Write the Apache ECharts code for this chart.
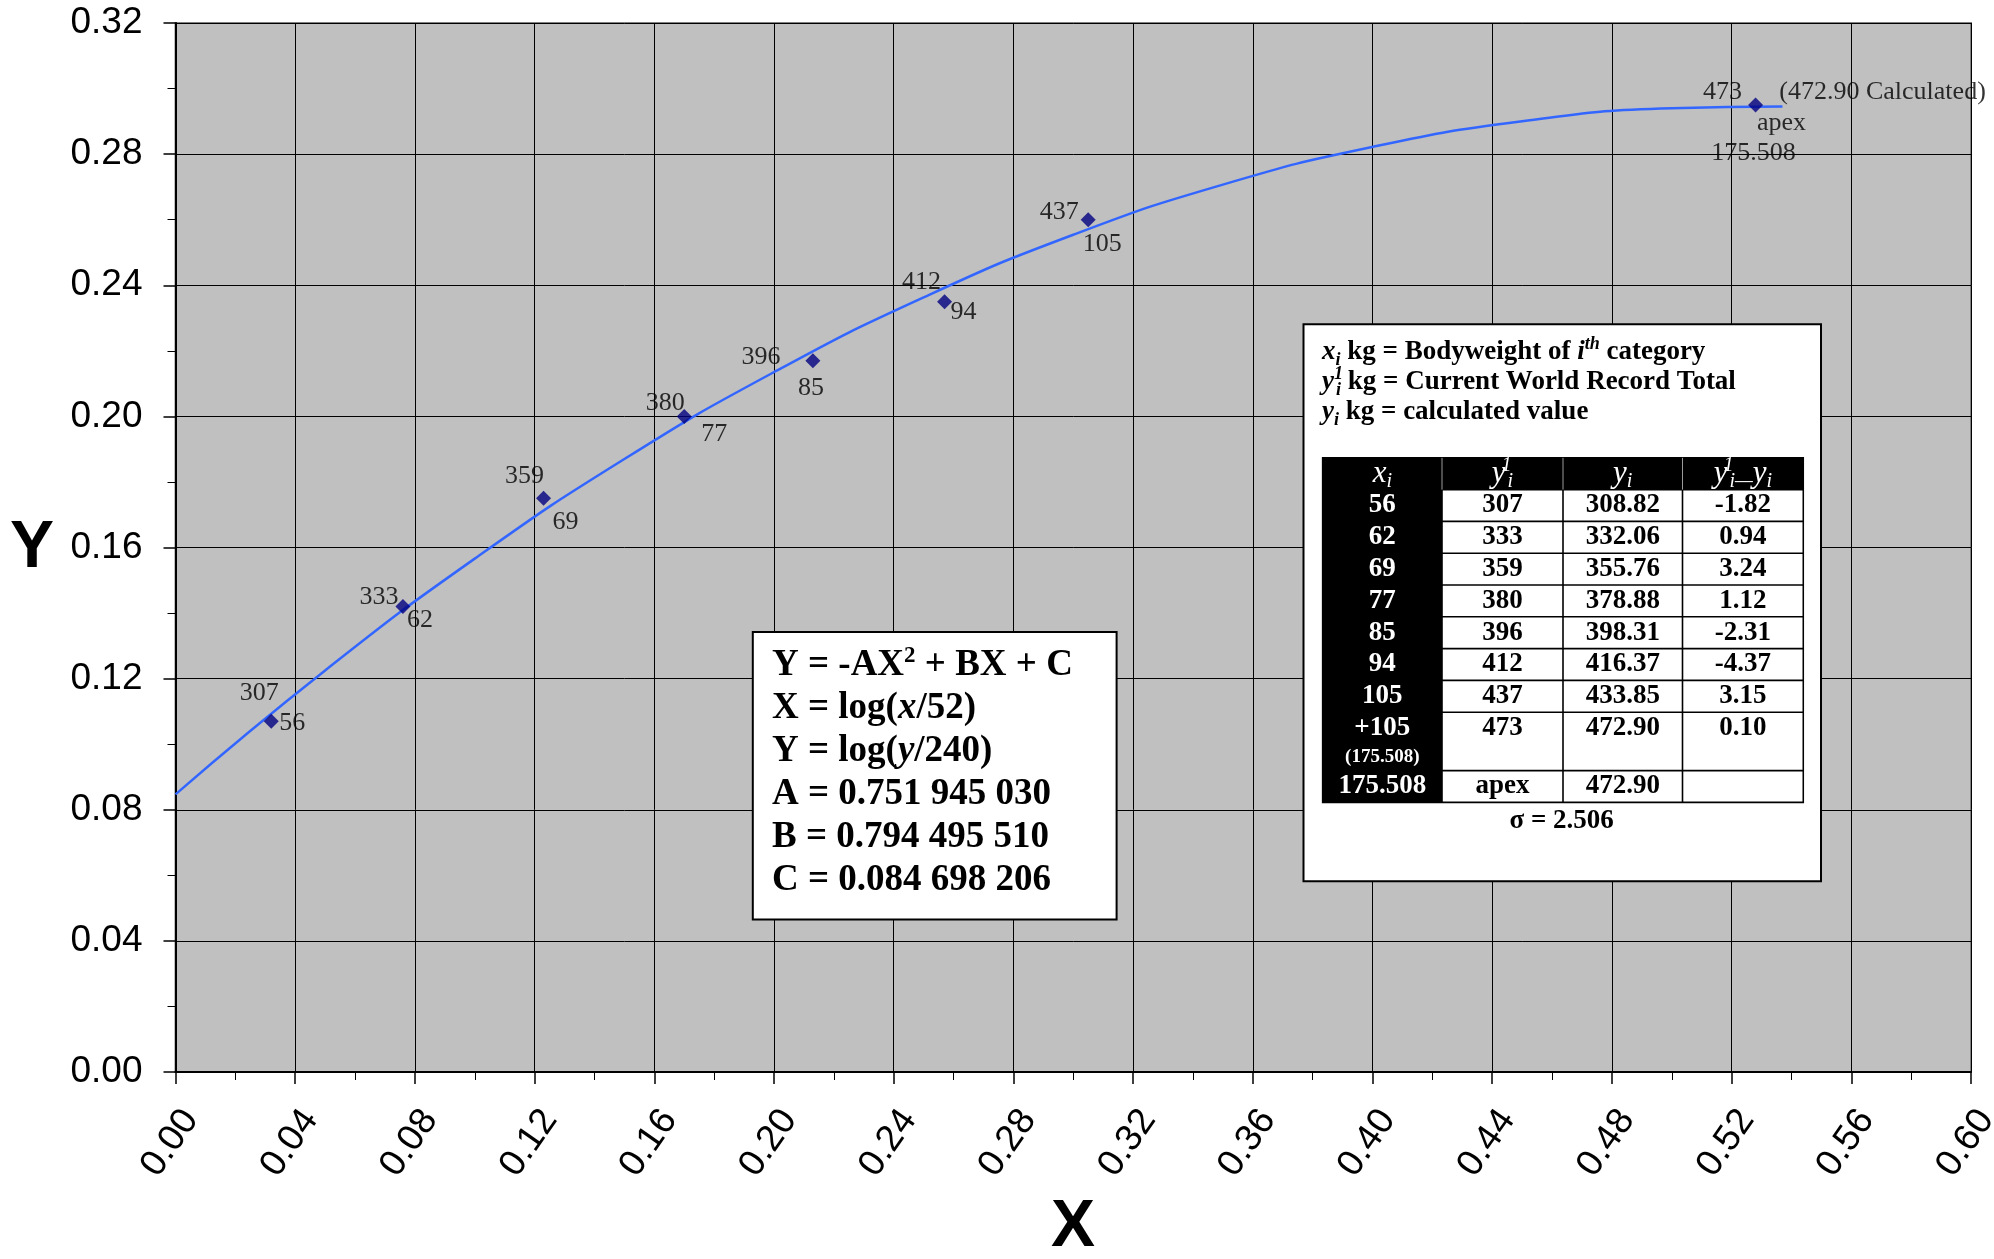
<!DOCTYPE html>
<html>
<head>
<meta charset="utf-8">
<script src="https://cdn.jsdelivr.net/npm/echarts@6/dist/echarts.min.js"></script>
<style>
html,body{margin:0;padding:0;background:#fff;}
#chart{width:1994px;height:1259px;}
</style>
</head>
<body>
<div id="chart"></div>
<script>
// ---------- data ----------
const bodyweights = ['56', '62', '69', '77', '85', '94', '105', '473'];
const bwLabels = ['56', '62', '69', '77', '85', '94', '105', 'apex'];
const recordTotals = ['307', '333', '359', '380', '396', '412', '437', '473'];
const pointX = [0.032, 0.076, 0.123, 0.170, 0.213, 0.257, 0.305, 0.528];
const pointY = [0.107, 0.142, 0.175, 0.200, 0.217, 0.235, 0.260, 0.295];
const apexExtraLabels = ['(472.90 Calculated)', '175.508'];

const curveX = [0, 0.05, 0.10, 0.15, 0.20, 0.25, 0.30, 0.35, 0.40, 0.45, 0.50, 0.537];
const curveY = [0.0847, 0.1225, 0.1566, 0.1870, 0.2135, 0.2363, 0.2554, 0.2707, 0.2822, 0.2900, 0.2940, 0.2945];

const formulaHead = ['Y = -AX', '2', ' + BX + C'];
const coefA = '0.751 945 030';
const coefB = '0.794 495 510';
const coefC = '0.084 698 206';

const tblX = ['56', '62', '69', '77', '85', '94', '105', '+105', '175.508'];
const tblXSub = ['', '', '', '', '', '', '', '(175.508)', ''];
const tblRec = ['307', '333', '359', '380', '396', '412', '437', '473', 'apex'];
const tblCalc = ['308.82', '332.06', '355.76', '378.88', '398.31', '416.37', '433.85', '472.90', '472.90'];
const tblDiff = ['-1.82', '0.94', '3.24', '1.12', '-2.31', '-4.37', '3.15', '0.10', ''];
const sigmaText = 'σ = 2.506';

// ---------- styles / label placement ----------
const recOffsets = [[-12, -28], [-24, -9], [-19, -22], [-19, -13], [-52, -3], [-23, -19], [-29, -8], [-33, -13]];
const bwOffsets = [[21, 2], [17, 14], [22, 24], [30, 18], [-2, 28], [19, 11], [14, 24], [26, 18]];
const extraOffsets = [[127, -13], [-2, 48]];

const SERIF = 'Liberation Serif';
const SANS = 'Liberation Sans';

const chart = echarts.init(document.getElementById('chart'), null, {renderer: 'canvas'});

const labelBase = {show: true, position: 'inside', color: '#000', fontFamily: SERIF, fontSize: 26,
  textBorderWidth: 0, textBorderColor: 'transparent', textShadowBlur: 0};

const recData = pointX.map((x, i) => ({value: [x, pointY[i]], label: {offset: recOffsets[i]}}));
const bwData = pointX.map((x, i) => ({value: [x, pointY[i]], label: {offset: bwOffsets[i]}}));
const ai = pointX.length - 1;
const extraData = apexExtraLabels.map((t, i) => ({value: [pointX[ai], pointY[ai]], name: t, label: {offset: extraOffsets[i]}}));

// ---------- graphic annotations ----------
const graphics = [];
function txt(x, y, text, font, opts) {
  opts = opts || {};
  return {
    type: 'text', x: x, y: y, z: 110,
    style: {
      text: text, font: font, fill: opts.fill || '#000',
      align: opts.align || 'center', verticalAlign: 'middle',
      textAlign: opts.align || 'center', textVerticalAlign: 'middle'
    }
  };
}
function richTxt(x, y, text, rich, align) {
  return {type: 'text', x: x, y: y, z: 110,
    style: {text: text, rich: rich, align: align, verticalAlign: 'middle', textAlign: align, textVerticalAlign: 'middle'}};
}

// Axis names
graphics.push(txt(32, 549, 'Y', 'bold 66px "' + SANS + '"'));
graphics.push(txt(1073, 1228, 'X', 'bold 66px "' + SANS + '"'));

// Formula box
graphics.push({type: 'rect', z: 100, shape: {x: 752.8, y: 632, width: 363.8, height: 287.4},
  style: {fill: '#fff', stroke: '#000', lineWidth: 2}});
const fRich = {
  b: {fontFamily: SERIF, fontSize: 37, fontWeight: 'bold', fill: '#000', color: '#000', lineHeight: 40, verticalAlign: 'middle'},
  i: {fontFamily: SERIF, fontSize: 37, fontWeight: 'bold', fontStyle: 'italic', fill: '#000', color: '#000', lineHeight: 40, verticalAlign: 'middle'},
  sup: {fontFamily: SERIF, fontSize: 23, fontWeight: 'bold', fill: '#000', color: '#000', lineHeight: 40, verticalAlign: 'top'}
};
const fLines = [
  '{b|' + formulaHead[0] + '}{sup|' + formulaHead[1] + '}{b|' + formulaHead[2] + '}',
  '{b|X = log(}{i|x}{b|/52)}',
  '{b|Y = log(}{i|y}{b|/240)}',
  '{b|A = ' + coefA + '}',
  '{b|B = ' + coefB + '}',
  '{b|C = ' + coefC + '}'
];
fLines.forEach((l, k) => graphics.push(richTxt(772, 665 + 43 * k, l, fRich, 'left')));

// Table box
graphics.push({type: 'rect', z: 100, shape: {x: 1303.5, y: 324.3, width: 517.5, height: 557},
  style: {fill: '#fff', stroke: '#000', lineWidth: 2}});
function mkRich(size, color, weight, lh) {
  const s = Math.round(size * 0.65);
  const base = {fontFamily: SERIF, fontWeight: weight, fill: color, color: color, lineHeight: lh};
  return {
    n: Object.assign({}, base, {fontSize: size, verticalAlign: 'middle'}),
    i: Object.assign({}, base, {fontSize: size, fontStyle: 'italic', verticalAlign: 'middle'}),
    sub: Object.assign({}, base, {fontSize: s, fontStyle: 'italic', verticalAlign: 'bottom'}),
    sup: Object.assign({}, base, {fontSize: s, fontStyle: 'italic', verticalAlign: 'top'}),
    supN: Object.assign({}, base, {fontSize: s, fontStyle: 'italic', verticalAlign: 'top', width: 2})
  };
}
const hRich = mkRich(27, '#000', 'bold', 34);
const headLines = [
  '{i|x}{sub|i}{n| kg = Bodyweight of }{i|i}{sup|th}{n| category}',
  '{i|y}{supN|1}{sub|i}{n| kg = Current World Record Total}',
  '{i|y}{sub|i}{n| kg = calculated value}'
];
headLines.forEach((l, k) => graphics.push(richTxt(1322, 352 + 30 * k, l, hRich, 'left')));

// Table grid
const colEdges = [1322.6, 1442, 1563, 1682.5, 1803.3];
const headTop = 457.8, headBot = 489.6, rowH = 31.8;
const rowTops = [], rowHs = [];
for (let r = 0; r < tblX.length; r++) {
  const h = (r === 7) ? 58.4 : rowH;
  rowTops.push(r === 0 ? headBot : rowTops[r - 1] + rowHs[r - 1]);
  rowHs.push(h);
}
const tblBottom = rowTops[rowTops.length - 1] + rowHs[rowHs.length - 1];
graphics.push({type: 'rect', z: 101, shape: {x: colEdges[0], y: headTop, width: colEdges[4] - colEdges[0], height: tblBottom - headTop},
  style: {fill: '#000', stroke: '#000', lineWidth: 1.5}});
for (let c = 1; c < 4; c++) {
  graphics.push({type: 'line', z: 102, shape: {x1: colEdges[c], y1: headTop, x2: colEdges[c], y2: headBot},
    style: {stroke: '#9a9a9a', lineWidth: 1}});
}
for (let r = 0; r < tblX.length; r++) {
  for (let c = 1; c < 4; c++) {
    graphics.push({type: 'rect', z: 102, shape: {x: colEdges[c] + 0.8, y: rowTops[r] + 0.8, width: colEdges[c + 1] - colEdges[c] - 1.6, height: rowHs[r] - 1.6},
      style: {fill: '#fff'}});
  }
}
const cellFont = 'bold 27px "' + SERIF + '"';
const colCenters = [0, 1, 2, 3].map(c => (colEdges[c] + colEdges[c + 1]) / 2);
// header texts
const thRich = mkRich(31, '#fff', 'normal', 36);
const headerCells = ['{i|x}{sub|i}', '{i|y}{supN|1}{sub|i}', '{i|y}{sub|i}', '{i|y}{supN|1}{sub|i—}{i|y}{sub|i}'];
headerCells.forEach((t, c) => graphics.push(richTxt(colCenters[c], 474, t, thRich, 'center')));
for (let r = 0; r < tblX.length; r++) {
  const cy = rowTops[r] + rowH / 2;
  graphics.push(txt(colCenters[0], cy, tblX[r], cellFont, {fill: '#fff'}));
  if (tblXSub[r]) graphics.push(txt(colCenters[0], cy + 29, tblXSub[r], 'bold 19px "' + SERIF + '"', {fill: '#fff'}));
  graphics.push(txt(colCenters[1], cy, tblRec[r], cellFont));
  graphics.push(txt(colCenters[2], cy, tblCalc[r], cellFont));
  if (tblDiff[r]) graphics.push(txt(colCenters[3], cy, tblDiff[r], cellFont));
}
graphics.push(txt(1561.6, 821.5, sigmaText, cellFont));

const axisCommon = {
  type: 'value',
  axisLine: {show: true, onZero: false, lineStyle: {color: '#000', width: 2}},
  axisTick: {show: true, length: 12, lineStyle: {color: '#000', width: 1.5}},
  minorTick: {show: true, splitNumber: 2, length: 8, lineStyle: {color: '#000', width: 1}},
  splitLine: {show: true, lineStyle: {color: '#000', width: 1}},
  minorSplitLine: {show: false}
};

const option = {
  animation: false,
  backgroundColor: '#fff',
  grid: {left: 175.5, right: 23, top: 23, bottom: 187, containLabel: false, outerBoundsMode: 'none',
    show: true, backgroundColor: '#c0c0c0', borderColor: '#808080', borderWidth: 2},
  xAxis: Object.assign({}, axisCommon, {
    min: 0, max: 0.6, interval: 0.04,
    axisLabel: {rotate: 55, margin: 31, align: 'right', verticalAlign: 'top', color: '#000', fontFamily: SANS, fontSize: 37, formatter: v => v.toFixed(2)}
  }),
  yAxis: Object.assign({}, axisCommon, {
    min: 0, max: 0.32, interval: 0.04,
    axisLabel: {margin: 33, color: '#000', fontFamily: SANS, fontSize: 37, formatter: v => v.toFixed(2)}
  }),
  series: [
    {type: 'line', data: curveX.map((x, i) => [x, curveY[i]]), smooth: true, symbol: 'none', silent: true, z: 2,
      lineStyle: {color: '#3366ff', width: 2.5}},
    {type: 'scatter', data: recData, symbol: 'diamond', symbolSize: 15, z: 4, itemStyle: {color: '#000080'},
      label: Object.assign({}, labelBase, {formatter: p => recordTotals[p.dataIndex]})},
    {type: 'scatter', data: bwData, symbol: 'circle', symbolSize: 1, z: 3, itemStyle: {color: 'transparent'}, silent: true,
      label: Object.assign({}, labelBase, {formatter: p => bwLabels[p.dataIndex]})},
    {type: 'scatter', data: extraData, symbol: 'circle', symbolSize: 1, z: 3, itemStyle: {color: 'transparent'}, silent: true,
      label: Object.assign({}, labelBase, {formatter: p => p.name})}
  ],
  graphic: {elements: graphics}
};
chart.setOption(option);
</script>
</body>
</html>
